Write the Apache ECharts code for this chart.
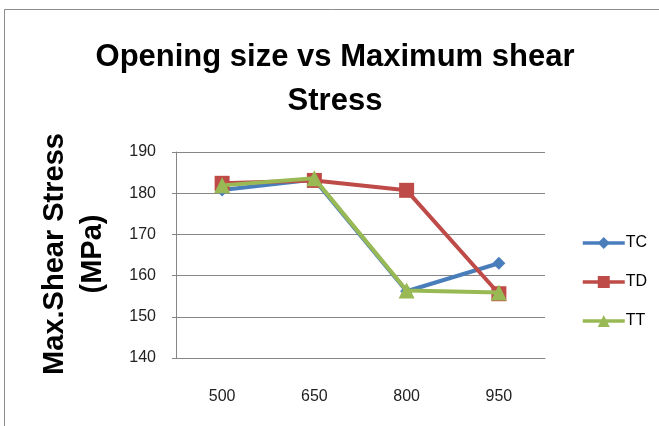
<!DOCTYPE html>
<html><head><meta charset="utf-8">
<script src="https://cdn.jsdelivr.net/npm/echarts@6/dist/echarts.min.js"></script>
<style>html,body{margin:0;padding:0;background:#fff}#c{width:659px;height:426px}</style>
</head><body><div id="c"></div>
<script>
const categories = ['500', '650', '800', '950'];
const tcValues = [180.8, 183.3, 156.2, 163.0];
const tdValues = [182.4, 183.1, 180.7, 155.6];
const ttValues = [181.9, 183.6, 156.4, 155.9];
const seriesNames = ['TC', 'TD', 'TT'];
const titleLines = ['Opening size vs Maximum shear', 'Stress'];
const yNameLines = ['Max.Shear Stress', '(MPa)'];

const chart = echarts.init(document.getElementById('c'));
const font = 'Liberation Sans, sans-serif';
chart.setOption({
  animation: false,
  graphic: [
    {type: 'rect', shape: {x: 4.5, y: 9.5, width: 700, height: 500}, style: {fill: 'none', stroke: '#8c8c8c', lineWidth: 1}},
    {type: 'text', x: 335, y: 57, style: {text: titleLines[0], font: 'bold 31px ' + font, fill: '#000', textAlign: 'center', textVerticalAlign: 'middle'}},
    {type: 'text', x: 335, y: 101, style: {text: titleLines[1], font: 'bold 31px ' + font, fill: '#000', textAlign: 'center', textVerticalAlign: 'middle'}},
    {type: 'text', x: 55, y: 254, rotation: Math.PI / 2, style: {text: yNameLines[0], font: 'bold 29px ' + font, fill: '#000', textAlign: 'center', textVerticalAlign: 'middle'}},
    {type: 'text', x: 93, y: 254, rotation: Math.PI / 2, style: {text: yNameLines[1], font: 'bold 29px ' + font, fill: '#000', textAlign: 'center', textVerticalAlign: 'middle'}}
  ],
  grid: {left: 176, right: 114, top: 152, bottom: 68},
  legend: {
    orient: 'vertical', left: 576, top: 230, itemGap: 23, itemWidth: 42, itemHeight: 15,
    data: seriesNames,
    lineStyle: {width: 3.5},
    textStyle: {fontFamily: font, fontSize: 16, color: '#000', padding: [0, 0, 0, -4]}
  },
  xAxis: {
    type: 'category', data: categories, boundaryGap: true,
    axisLine: {lineStyle: {color: '#868686', width: 1}},
    axisTick: {show: false},
    axisLabel: {color: '#222', fontSize: 16, margin: 31, fontFamily: font}
  },
  yAxis: {
    type: 'value', min: 140, max: 190, interval: 10,
    axisLine: {show: true, lineStyle: {color: '#868686', width: 1}},
    axisTick: {show: true, length: 4, lineStyle: {color: '#868686'}},
    axisLabel: {color: '#222', fontSize: 16, margin: 20, fontFamily: font},
    splitLine: {lineStyle: {color: '#868686', width: 1}}
  },
  series: [
    {name: seriesNames[0], type: 'line', data: tcValues, symbol: 'diamond', symbolSize: 13,
     lineStyle: {color: '#4A7EBB', width: 4}, itemStyle: {color: '#4A7EBB'}, z: 2},
    {name: seriesNames[1], type: 'line', data: tdValues, symbol: 'rect', symbolSize: 15,
     lineStyle: {color: '#BE4B48', width: 4}, itemStyle: {color: '#BE4B48'}, z: 3},
    {name: seriesNames[2], type: 'line', data: ttValues, symbol: 'triangle', symbolSize: 16,
     lineStyle: {color: '#98B954', width: 4}, itemStyle: {color: '#98B954'}, z: 4}
  ]
});
</script></body></html>
